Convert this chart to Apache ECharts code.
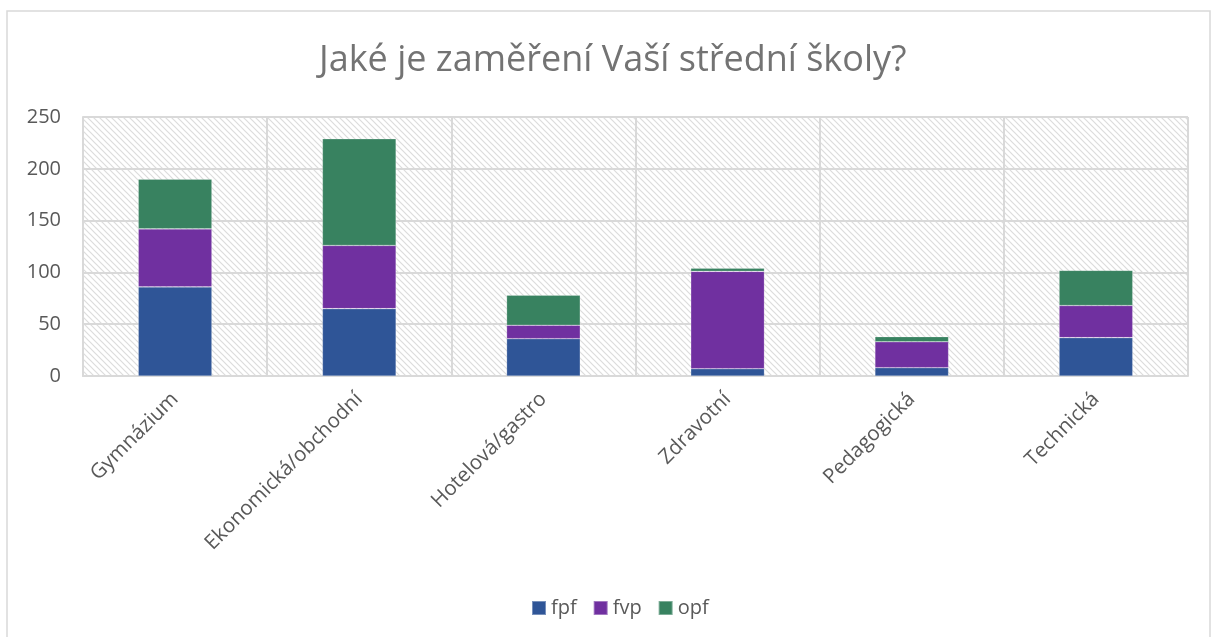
<!DOCTYPE html>
<html>
<head>
<meta charset="utf-8">
<script src="https://cdn.jsdelivr.net/npm/echarts@6/dist/echarts.min.js"></script>
<style>
  html, body { margin: 0; padding: 0; background: #fff; }
  #chart { width: 1212px; height: 637px; }
</style>
</head>
<body>
<div id="chart"></div>
<script>
var categories = ['Gymnázium', 'Ekonomická/obchodní', 'Hotelová/gastro', 'Zdravotní', 'Pedagogická', 'Technická'];
var fpf = [86, 65, 36, 7, 8, 37];
var fvp = [56, 61, 13, 94, 25, 31];
var opf = [48, 103, 29, 3, 5, 34];
var yTicks = [0, 50, 100, 150, 200, 250];

// diagonal hatch for the plot area
function hatch() {
    var c = document.createElement('canvas');
    c.width = 6;
    c.height = 6;
    var ctx = c.getContext('2d');
    ctx.fillStyle = '#fff';
    ctx.fillRect(0, 0, 6, 6);
    ctx.strokeStyle = '#dcdcdc';
    ctx.lineWidth = 1.2;
    ctx.beginPath();
    ctx.moveTo(-1, -1); ctx.lineTo(7, 7);
    ctx.moveTo(-1, 5); ctx.lineTo(1, 7);
    ctx.moveTo(5, -1); ctx.lineTo(7, 1);
    ctx.stroke();
    return c;
}

var chart = echarts.init(document.getElementById('chart'));
var font = '"Open Sans", Lato, sans-serif';

function bar(name, data, color) {
    return {
        name: name,
        type: 'bar',
        stack: 'total',
        barWidth: '40%',
        data: data,
        itemStyle: { color: color, borderColor: 'rgba(255,255,255,0.35)', borderWidth: 0.6 }
    };
}

var option = {
    animation: false,
    backgroundColor: '#fff',
    textStyle: { fontFamily: font },
    title: {
        text: 'Jaké je zaměření Vaší střední školy?',
        left: 314,
        top: 38,
        textStyle: { fontSize: 36, fontWeight: 'normal', color: '#737373', fontFamily: font }
    },
    legend: {
        bottom: 14,
        left: 526,
        itemWidth: 14,
        itemHeight: 14,
        itemGap: 16,
        icon: 'rect',
        textStyle: { fontSize: 20, color: '#595959', fontFamily: font },
        data: ['fpf', 'fvp', 'opf']
    },
    graphic: [{
        type: 'rect',
        shape: { x: 7, y: 11, width: 1203, height: 640 },
        style: { fill: 'none', stroke: '#d9d9d9', lineWidth: 1.5 },
        silent: true
    }, {
        // right edge of the plot frame
        type: 'line',
        shape: { x1: 1188, y1: 117, x2: 1188, y2: 376 },
        style: { stroke: '#d9d9d9', lineWidth: 2 },
        silent: true
    }],
    grid: {
        left: 83,
        right: 24,
        top: 117,
        bottom: 261,
        show: true,
        backgroundColor: { image: hatch(), repeat: 'repeat' },
        borderWidth: 0
    },
    xAxis: {
        type: 'category',
        data: categories,
        axisLine: { show: true, lineStyle: { color: '#d9d9d9', width: 2 } },
        axisTick: { show: false },
        splitLine: { show: true, lineStyle: { color: '#d9d9d9', width: 2 } },
        axisLabel: { rotate: 45, fontSize: 20.5, color: '#595959', margin: 20, fontFamily: font, interval: 0 }
    },
    yAxis: {
        type: 'value',
        min: yTicks[0],
        max: yTicks[yTicks.length - 1],
        interval: 50,
        axisLine: { show: true, lineStyle: { color: '#d9d9d9', width: 2 } },
        axisTick: { show: false },
        splitLine: { show: true, lineStyle: { color: '#d9d9d9', width: 2 } },
        axisLabel: { fontSize: 20, color: '#595959', margin: 22, fontFamily: font }
    },
    series: [
        bar('fpf', fpf, '#2F5597'),
        bar('fvp', fvp, '#7030A0'),
        bar('opf', opf, '#388260')
    ]
};

chart.setOption(option);
</script>
</body>
</html>
